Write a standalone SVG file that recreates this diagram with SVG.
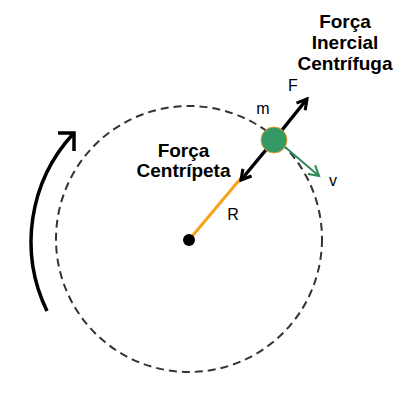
<svg xmlns="http://www.w3.org/2000/svg" width="400" height="400" viewBox="0 0 400 400">
<style>
.lbl{font-family:"Liberation Sans",Arial,sans-serif;font-size:19px;font-weight:bold;fill:#000;text-anchor:middle}
.sm{font-family:"Liberation Sans",Arial,sans-serif;font-size:16px;fill:#000;text-anchor:middle}
</style>
<defs>
<marker id="ab" viewBox="0 0 10 10" refX="8" refY="5" markerWidth="4" markerHeight="4" orient="auto" markerUnits="strokeWidth"><path d="M1,1 L8,5 L1,9" fill="none" stroke="#000" stroke-width="2.2"/></marker>
<marker id="ag" viewBox="0 0 10 10" refX="8" refY="5" markerWidth="7" markerHeight="7" orient="auto" markerUnits="strokeWidth"><path d="M1,1 L8,5 L1,9" fill="none" stroke="#2e8b57" stroke-width="1.5"/></marker>
</defs>
<rect width="400" height="400" fill="#fff"/>
<g id="orbit"><circle cx="189" cy="239" r="133" fill="none" stroke="#333" stroke-width="2" stroke-dasharray="8,5"/></g>
<g id="connectors">
<path d="M47,311 A159,159 0 0 1 73,134" fill="none" stroke="#000" stroke-width="3.5"/>
<path d="M58,133 H74 V151" fill="none" stroke="#000" stroke-width="3.5"/>
<line x1="189" y1="240" x2="241" y2="178" stroke="#f7a21b" stroke-width="3"/>
<line x1="270" y1="145" x2="241" y2="180" stroke="#000" stroke-width="3.5" marker-end="url(#ab)"/>
<line x1="278" y1="135" x2="307" y2="99" stroke="#000" stroke-width="3.5" marker-end="url(#ab)"/>
<line x1="285" y1="147" x2="319" y2="176" stroke="#2e8b57" stroke-width="2" marker-end="url(#ag)"/>
</g>
<g id="center"><circle cx="189" cy="240" r="6" fill="#000"/></g>
<g id="mass"><circle cx="274" cy="140" r="13" fill="#359966" stroke="#e0a030" stroke-width="1"/></g>
<g id="labels">
<text class="lbl" x="183.5" y="157">Força</text>
<text class="lbl" x="183.5" y="177">Centrípeta</text>
<text class="lbl" x="345" y="28">Força</text>
<text class="lbl" x="345" y="49">Inercial</text>
<text class="lbl" x="345" y="70">Centrífuga</text>
<text class="sm" x="293" y="91">F</text>
<text class="sm" x="263" y="114">m</text>
<text class="sm" x="333" y="186">v</text>
<text class="sm" x="233" y="220">R</text>
</g>
</svg>
